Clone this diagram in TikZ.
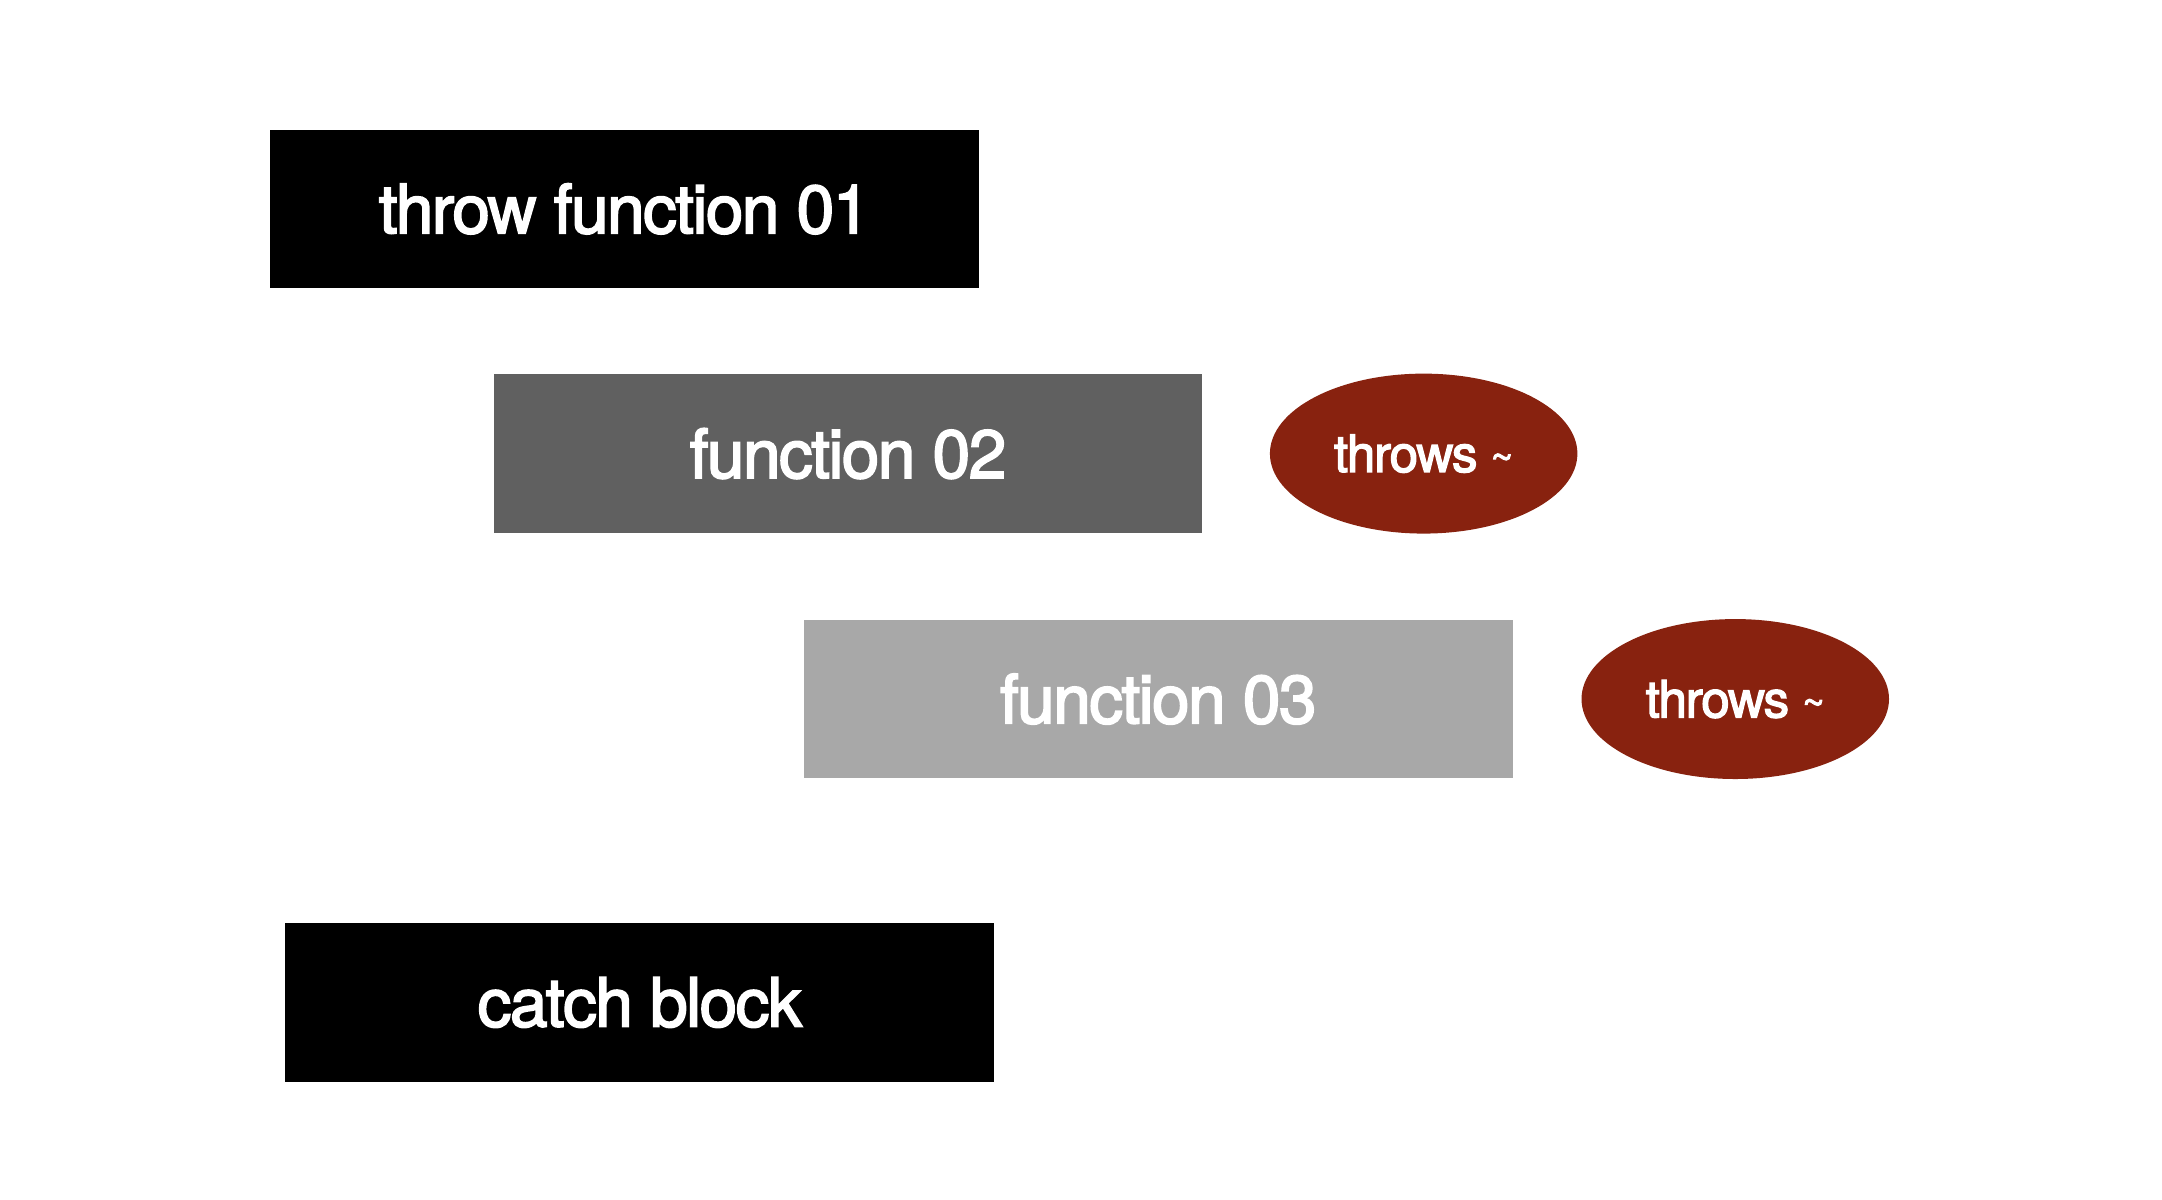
\documentclass[tikz,border=0pt]{standalone}
\usepackage{fontspec}
\setmainfont{TeX Gyre Heros}
\newfontfamily\lblfont{TeX Gyre Heros}[FakeBold=2.5, LetterSpace=-2.5]
\usetikzlibrary{shapes.geometric}
\definecolor{darkgrey}{HTML}{606060}
\definecolor{lightgrey}{HTML}{A8A8A8}
\definecolor{throwred}{HTML}{88220F}
\tikzset{
  fnbox/.style={rectangle, minimum width=5.14cm, minimum height=1.15cm, inner sep=0pt,
    text=white, font=\lblfont\fontsize{14}{15}\selectfont},
  throwsnode/.style={ellipse, fill=throwred, minimum width=2.23cm, minimum height=1.16cm,
    inner sep=0pt, text=white, font=\lblfont\fontsize{10.6}{12}\selectfont}
}
\begin{document}
\begin{tikzpicture}
\useasboundingbox (0,-0.03) rectangle (15.68,8.67);
\node[fnbox, fill=black] (fn01) at (4.53,7.155) {throw function 01};
\node[fnbox, fill=darkgrey] (fn02) at (6.15,5.38) {function 02};
\node[fnbox, fill=lightgrey] (fn03) at (8.40,3.60) {function 03};
%throws
\node[throwsnode] (throws02) at (10.325,5.38) {throws \raisebox{.05ex}{\footnotesize\textasciitilde}};
\node[throwsnode] (throws03) at (12.585,3.60) {throws \raisebox{.05ex}{\footnotesize\textasciitilde}};
\node[fnbox, fill=black] (catch) at (4.64,1.40) {catch block};
\end{tikzpicture}
\end{document}
